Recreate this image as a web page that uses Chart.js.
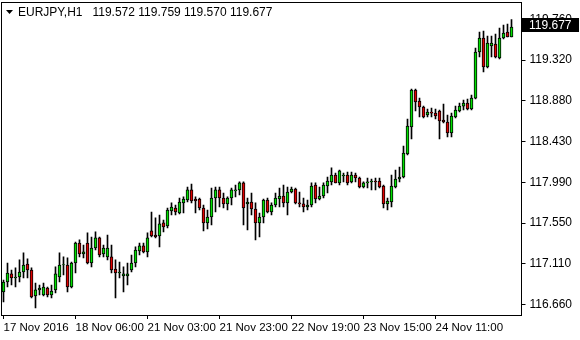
<!DOCTYPE html>
<html>
<head>
<meta charset="utf-8">
<script src="https://cdn.jsdelivr.net/npm/chart.js@4.4.1/dist/chart.umd.min.js"></script>
<style>
	html, body { margin: 0; padding: 0; background: #fff; }
</style>
</head>
<body>
<canvas id="chart" width="580" height="340"></canvas>
<script>
// ── Data (EURJPY, H1) ─────────────────────────────────────────────────────────

const symbol = 'EURJPY,H1';

const opens = [
	116.801, 116.909, 116.997, 116.953, 116.964, 117.018, 117.105, 117.040, 116.758, 116.823,
	116.769, 116.844, 116.769, 116.823, 116.964, 117.094, 117.094, 116.855, 117.116, 117.333,
	117.214, 117.333, 117.116, 117.279, 117.388, 117.214, 117.182, 117.182, 117.051, 117.007,
	116.975, 116.975, 117.040, 117.116, 117.246, 117.301, 117.236, 117.464, 117.420, 117.409,
	117.551, 117.518, 117.681, 117.713, 117.659, 117.768, 117.800, 117.909, 117.811, 117.811,
	117.713, 117.551, 117.615, 117.822, 117.909, 117.822, 117.757, 117.822, 117.898, 117.909,
	117.985, 117.757, 117.778, 117.702, 117.551, 117.615, 117.800, 117.670, 117.746, 117.811,
	117.843, 117.768, 117.887, 117.919, 117.768, 117.757, 117.724, 117.746, 117.963, 117.811,
	117.843, 117.952, 117.996, 118.071, 117.985, 118.060, 118.071, 117.996, 118.071, 118.039,
	117.941, 117.985, 117.996, 118.006, 118.006, 117.952, 117.757, 117.778, 117.941, 118.028,
	118.050, 118.299, 118.593, 118.994, 118.875, 118.810, 118.723, 118.755, 118.744, 118.766,
	118.669, 118.647, 118.527, 118.701, 118.766, 118.820, 118.853, 118.788, 118.907, 119.407,
	119.559, 119.244, 119.472, 119.494, 119.342, 119.559, 119.624, 119.572,
];
const highs = [
	116.931, 117.116, 117.040, 117.062, 117.149, 117.225, 117.160, 117.062, 116.898, 116.877,
	116.898, 116.855, 116.877, 117.073, 117.225, 117.182, 117.171, 117.127, 117.344, 117.366,
	117.311, 117.442, 117.398, 117.453, 117.398, 117.311, 117.420, 117.311, 117.149, 117.127,
	117.073, 117.116, 117.203, 117.290, 117.333, 117.333, 117.442, 117.670, 117.605, 117.637,
	117.583, 117.713, 117.768, 117.746, 117.822, 117.833, 117.941, 117.974, 117.833, 117.822,
	117.746, 117.691, 117.930, 117.941, 117.941, 117.876, 117.833, 117.930, 117.963, 117.996,
	117.996, 117.822, 117.876, 117.768, 117.659, 117.811, 117.822, 117.768, 117.876, 117.930,
	117.963, 117.941, 117.941, 117.930, 117.887, 117.822, 117.800, 117.985, 117.985, 117.941,
	117.985, 118.050, 118.148, 118.093, 118.126, 118.093, 118.104, 118.104, 118.093, 118.050,
	117.996, 118.039, 118.028, 118.039, 118.039, 117.963, 117.822, 118.071, 118.126, 118.158,
	118.386, 118.679, 119.005, 119.005, 118.907, 118.820, 118.788, 118.799, 118.788, 118.777,
	118.842, 118.723, 118.744, 118.820, 118.853, 118.886, 118.897, 118.940, 119.450, 119.624,
	119.635, 119.581, 119.581, 119.602, 119.667, 119.700, 119.711, 119.759,
];
const lows = [
	116.692, 116.855, 116.877, 116.855, 116.909, 116.953, 116.953, 116.736, 116.627, 116.769,
	116.758, 116.747, 116.736, 116.791, 116.909, 116.986, 116.801, 116.844, 117.007, 117.182,
	117.171, 117.105, 117.073, 117.257, 117.182, 117.182, 117.149, 117.007, 116.736, 116.953,
	116.801, 116.877, 117.018, 117.073, 117.203, 117.225, 117.182, 117.398, 117.388, 117.290,
	117.453, 117.496, 117.637, 117.637, 117.648, 117.659, 117.778, 117.768, 117.659, 117.691,
	117.464, 117.485, 117.529, 117.670, 117.724, 117.713, 117.691, 117.746, 117.833, 117.854,
	117.529, 117.474, 117.637, 117.366, 117.398, 117.551, 117.659, 117.637, 117.724, 117.724,
	117.724, 117.637, 117.876, 117.757, 117.724, 117.670, 117.691, 117.724, 117.768, 117.800,
	117.822, 117.876, 117.963, 117.985, 117.963, 117.996, 117.963, 117.985, 117.996, 117.930,
	117.930, 117.930, 117.909, 117.909, 117.930, 117.713, 117.691, 117.724, 117.930, 117.996,
	118.039, 118.289, 118.462, 118.766, 118.701, 118.690, 118.701, 118.701, 118.679, 118.462,
	118.636, 118.484, 118.484, 118.690, 118.755, 118.777, 118.777, 118.777, 118.897, 119.353,
	119.190, 119.233, 119.353, 119.342, 119.331, 119.548, 119.570, 119.570,
];
const closes = [
	116.909, 117.007, 116.953, 116.964, 117.018, 117.094, 117.040, 116.747, 116.823, 116.844,
	116.855, 116.769, 116.812, 116.997, 117.094, 117.099, 116.855, 117.116, 117.333, 117.214,
	117.236, 117.116, 117.279, 117.388, 117.203, 117.279, 117.279, 117.040, 117.007, 117.018,
	116.997, 116.997, 117.116, 117.257, 117.301, 117.236, 117.388, 117.409, 117.398, 117.540,
	117.507, 117.691, 117.724, 117.670, 117.778, 117.811, 117.909, 117.789, 117.789, 117.713,
	117.551, 117.615, 117.822, 117.909, 117.822, 117.757, 117.822, 117.909, 117.909, 117.985,
	117.713, 117.778, 117.702, 117.551, 117.615, 117.800, 117.670, 117.746, 117.822, 117.843,
	117.768, 117.887, 117.919, 117.768, 117.757, 117.724, 117.746, 117.952, 117.811, 117.843,
	117.963, 118.006, 118.071, 117.985, 118.116, 118.071, 117.985, 118.071, 118.039, 117.941,
	117.985, 117.996, 118.006, 117.996, 117.941, 117.757, 117.789, 117.952, 118.028, 118.050,
	118.310, 118.603, 118.994, 118.864, 118.810, 118.701, 118.755, 118.744, 118.712, 118.658,
	118.647, 118.527, 118.712, 118.777, 118.820, 118.853, 118.788, 118.907, 119.407, 119.559,
	119.244, 119.505, 119.505, 119.353, 119.559, 119.613, 119.570, 119.677,
];

// time axis: bar index of each label, and its text
const timeTickIndex = [0, 18, 36, 54, 72, 90, 108];
const timeTickLabels = [
	'17 Nov 2016', '18 Nov 06:00', '21 Nov 03:00', '21 Nov 23:00',
	'22 Nov 19:00', '23 Nov 15:00', '24 Nov 11:00',
];

const priceTicks = [116.660, 117.110, 117.550, 117.990, 118.430, 118.880, 119.320, 119.760];
const priceMin = 116.551;
const priceMax = 119.950;

// empty bar slots kept free on the right (chart shift)
const shiftBars = 2;

// ── Style ─────────────────────────────────────────────────────────────────────

const BULL = '#00e000';
const BEAR = '#e00000';
const FONT = 'Liberation Sans, Arial, sans-serif';

// ── Build datasets ────────────────────────────────────────────────────────────

const labels = opens.map((_, i) => String(i)).concat(Array(shiftBars).fill(''));
const bodies = opens.map((o, i) => [o, closes[i]]);
const wicks = opens.map((_, i) => [lows[i], highs[i]]);
const bodyColors = opens.map((o, i) => (closes[i] >= o ? BULL : BEAR));

// frame, header line and current price label (MT4 look)
const terminalPlugin = {
	id: 'terminal',
	afterDraw(chart) {
		const { ctx, chartArea: a } = chart;
		const y = chart.scales.y;
		const last = opens.length - 1;

		ctx.save();
		ctx.strokeStyle = '#000';
		ctx.lineWidth = 1;
		ctx.strokeRect(Math.floor(a.left) + 0.5, Math.floor(a.top) + 0.5,
			Math.round(a.right - a.left), Math.round(a.bottom - a.top));

		// header
		ctx.fillStyle = '#000';
		ctx.beginPath();
		ctx.moveTo(6, 10);
		ctx.lineTo(13, 10);
		ctx.lineTo(9.5, 14);
		ctx.closePath();
		ctx.fill();
		ctx.font = '12px ' + FONT;
		ctx.textBaseline = 'middle';
		ctx.textAlign = 'left';
		const ohlc = [opens[last], highs[last], lows[last], closes[last]].map((v) => v.toFixed(3));
		ctx.fillText(symbol + '   ' + ohlc.join(' '), 18, 12.5);

		// current price box on the price scale
		const py = Math.round(y.getPixelForValue(closes[last]));
		ctx.fillStyle = '#000';
		ctx.fillRect(522, py - 9, 57, 14);
		ctx.fillStyle = '#fff';
		ctx.font = '12px ' + FONT;
		ctx.fillText(closes[last].toFixed(3), 529, py - 1.5);
		ctx.restore();
	},
};

new Chart(document.getElementById('chart'), {
	type: 'bar',
	data: {
		labels,
		datasets: [
			{
				label: 'body',
				data: bodies,
				backgroundColor: bodyColors,
				borderColor: '#000',
				borderWidth: 1,
				borderSkipped: false,
				barThickness: 3,
				grouped: false,
				order: 0,
			},
			{
				label: 'wick',
				data: wicks,
				backgroundColor: '#000',
				borderWidth: 0,
				barThickness: 1,
				grouped: false,
				order: 1,
			},
		],
	},
	options: {
		responsive: false,
		animation: false,
		events: [],
		layout: { padding: { left: 1.5, top: 2, right: 0, bottom: 0 } },
		plugins: {
			legend: { display: false },
			tooltip: { enabled: false },
		},
		scales: {
			x: {
				afterBuildTicks: (s) => {
					s.ticks = timeTickIndex.map((i) => ({ value: i }));
				},
				afterFit: (s) => {
					s.height = 25;
					s.paddingLeft = 0;
					s.paddingRight = 0;
				},
				grid: {
					drawOnChartArea: false,
					offset: false,
					tickLength: 4,
					color: '#000',
				},
				border: { color: '#000' },
				ticks: {
					autoSkip: false,
					maxRotation: 0,
					align: 'start',
					padding: 2,
					color: '#000',
					font: { family: FONT, size: 11.5 },
					callback: (v, i) => timeTickLabels[i],
				},
			},
			y: {
				position: 'right',
				min: priceMin,
				max: priceMax,
				afterBuildTicks: (s) => {
					s.ticks = priceTicks.map((v) => ({ value: v }));
				},
				afterFit: (s) => {
					s.width = 58.5;
					s.paddingTop = 0;
					s.paddingBottom = 0;
				},
				grid: {
					drawOnChartArea: false,
					tickLength: 4,
					color: '#000',
				},
				border: { color: '#000' },
				ticks: {
					padding: 4,
					color: '#000',
					font: { family: FONT, size: 12 },
					callback: (v) => Number(v).toFixed(3),
				},
			},
		},
	},
	plugins: [terminalPlugin],
});
</script>
</body>
</html>
